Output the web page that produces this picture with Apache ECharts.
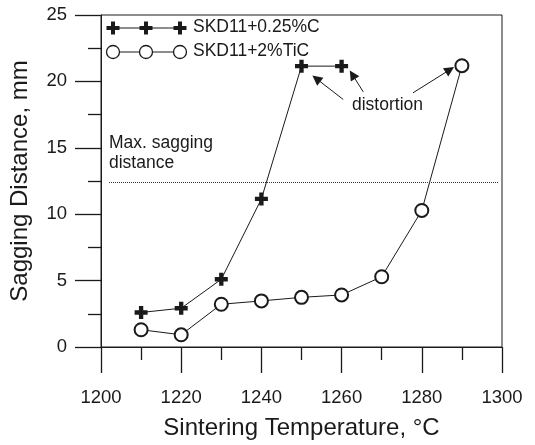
<!DOCTYPE html>
<html><head><meta charset="utf-8">
<script src="https://cdn.jsdelivr.net/npm/echarts@6/dist/echarts.min.js"></script>
<style>html,body{margin:0;padding:0;background:#fff}#c{width:535px;height:445px}</style>
</head><body><div id="c"></div>
<script>
const temps = [1210, 1220, 1230, 1240, 1250, 1260, 1270, 1280, 1290];
const carbonName = 'SKD11+0.25%C';
const carbonValues = [2.6, 2.92, 5.1, 11.15, 21.15, 21.15];
const ticName = 'SKD11+2%TiC';
const ticValues = [1.3, 0.92, 3.22, 3.47, 3.74, 3.92, 5.29, 10.28, 21.18];
const maxSagY = 12.37;
const maxSagX = [1202, 1299];
const arrowStarts = [[1260.4, 18.64], [1265.4, 19.21], [1277.8, 19.14]];
const arrowEnds = [[1253.7, 20.21], [1262.7, 20.51], [1287.0, 20.88]];

const FONT = '"Liberation Sans", Arial, Helvetica, sans-serif';
const INK = '#1a1a1a';
const PLUS = 'path://M4,0h4v4h4v4h-4v4h-4v-4h-4v-4h4z';

const chart = echarts.init(document.getElementById('c'), null, {renderer: 'canvas'});

function plusGraphic(cx, cy) {
  return [
    {type: 'rect', shape: {x: cx - 6.5, y: cy - 2, width: 13, height: 4}, style: {fill: INK}},
    {type: 'rect', shape: {x: cx - 2, y: cy - 6.5, width: 4, height: 13}, style: {fill: INK}}
  ];
}
function circleGraphic(cx, cy) {
  return [{type: 'circle', shape: {cx: cx, cy: cy, r: 6.5}, style: {fill: '#fff', stroke: INK, lineWidth: 1.3}}];
}
const lx = [113, 146, 180];
const legendEls = [];
legendEls.push({type: 'line', shape: {x1: lx[0], y1: 28, x2: lx[2], y2: 28}, style: {stroke: INK, lineWidth: 1}});
legendEls.push({type: 'line', shape: {x1: lx[0], y1: 52, x2: lx[2], y2: 52}, style: {stroke: INK, lineWidth: 1}});
lx.forEach(x => { legendEls.push(...plusGraphic(x, 28)); legendEls.push(...circleGraphic(x, 52)); });
legendEls.push({type: 'text', left: 193, top: 18, style: {text: carbonName, font: '17.5px ' + FONT, fill: INK}});
legendEls.push({type: 'text', left: 193, top: 42, style: {text: ticName, font: '17.5px ' + FONT, fill: INK}});
legendEls.push({type: 'text', left: 109, top: 133, style: {text: 'Max. sagging\ndistance', font: '17.5px ' + FONT, fill: INK, lineHeight: 20}});
legendEls.push({type: 'text', left: 352, top: 96, style: {text: 'distortion', font: '17.5px ' + FONT, fill: INK}});

const arrowData = arrowStarts.map((s, i) => [{coord: s}, {coord: arrowEnds[i]}]);

chart.setOption({
  animation: false,
  backgroundColor: '#fff',
  grid: {left: 101, right: 33, top: 15, bottom: 96, show: true, borderColor: INK, borderWidth: 1, backgroundColor: 'transparent'},
  xAxis: {
    type: 'value', min: 1200, max: 1300, interval: 20,
    name: 'Sintering Temperature, °C', nameLocation: 'middle', nameGap: 69,
    nameTextStyle: {fontSize: 24, fontFamily: FONT, color: INK},
    axisLine: {lineStyle: {color: INK, width: 1}},
    axisTick: {show: true, inside: false, length: 26, lineStyle: {color: INK, width: 1.3}},
    minorTick: {show: true, splitNumber: 2, length: 13, lineStyle: {color: INK, width: 1.3}},
    axisLabel: {fontSize: 18.5, fontFamily: FONT, color: INK, margin: 41, formatter: v => String(v)},
    splitLine: {show: false}
  },
  yAxis: {
    type: 'value', min: 0, max: 25, interval: 5,
    name: 'Sagging Distance, mm', nameLocation: 'middle', nameGap: 69,
    nameTextStyle: {fontSize: 24, fontFamily: FONT, color: INK},
    axisLine: {lineStyle: {color: INK, width: 1}},
    axisTick: {show: true, inside: false, length: 26, lineStyle: {color: INK, width: 1.3}},
    minorTick: {show: true, splitNumber: 2, length: 13, lineStyle: {color: INK, width: 1.3}},
    axisLabel: {fontSize: 18.5, fontFamily: FONT, color: INK, margin: 34, formatter: v => String(v)},
    splitLine: {show: false}
  },
  graphic: legendEls,
  series: [
    {
      name: carbonName, type: 'line',
      data: carbonValues.map((v, i) => [temps[i], v]),
      symbol: PLUS, symbolSize: 13,
      lineStyle: {color: INK, width: 1},
      itemStyle: {color: INK, borderWidth: 0},
      z: 3,
      markLine: {
        silent: true, symbol: ['none', 'triangle'], symbolSize: 10,
        label: {show: false},
        itemStyle: {color: INK},
        lineStyle: {color: INK, width: 1, type: 'solid'},
        data: arrowData
      }
    },
    {
      name: ticName, type: 'line',
      data: ticValues.map((v, i) => [temps[i], v]),
      symbol: 'emptyCircle', symbolSize: 13,
      lineStyle: {color: INK, width: 1},
      itemStyle: {color: INK, borderColor: INK, borderWidth: 1.3},
      z: 3,
      markLine: {
        silent: true, symbol: ['none', 'none'],
        label: {show: false},
        lineStyle: {color: '#333', width: 1, type: 'dotted'},
        data: [[{coord: [maxSagX[0], maxSagY]}, {coord: [maxSagX[1], maxSagY]}]]
      }
    }
  ]
});
</script></body></html>
